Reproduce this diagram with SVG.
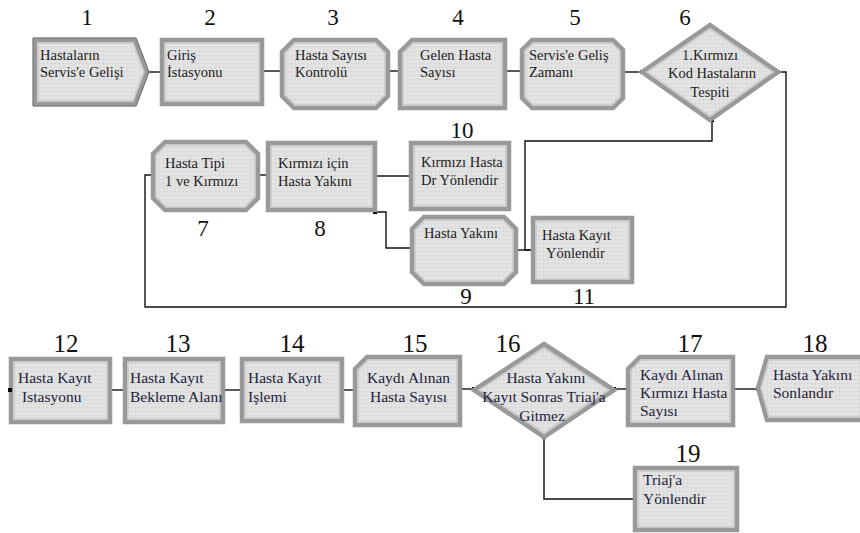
<svg xmlns="http://www.w3.org/2000/svg" width="860" height="533" viewBox="0 0 860 533">
<defs>
<pattern id="dots" width="4" height="4" patternUnits="userSpaceOnUse">
<rect width="4" height="4" fill="#e0e0e0"/>
<rect x="1" y="1" width="1" height="1" fill="#f0f0f0"/>
<rect x="3" y="3" width="1" height="1" fill="#d2d2d2"/>
</pattern>
<marker id="ep" viewBox="0 0 4 4" refX="2" refY="2" markerWidth="4" markerHeight="4" markerUnits="userSpaceOnUse">
<rect width="4" height="4" fill="#000"/>
</marker>
</defs>
<style>
.o{fill:url(#dots);stroke:#999;stroke-width:4.5;stroke-linejoin:miter}
.i{fill:none;stroke:#c8c8c8;stroke-width:1.5}
.x{fill:none;stroke:#707070;stroke-width:1}
text{font-family:'Liberation Serif','DejaVu Serif','Times New Roman',serif}
.t{font-size:14.5px;fill:#1c1c1c}
.tb{font-size:15.5px;fill:#1e1e3c}
.m{text-anchor:middle}
.n{font-size:23px;fill:#111;text-anchor:middle}
.nb{font-size:25px;fill:#111;text-anchor:middle}
.c{fill:none;stroke:#111;stroke-width:1.4;marker-start:url(#ep);marker-end:url(#ep)}
</style>
<rect width="860" height="533" fill="#fff"/>

<g id="connectors">
<path class="c" d="M147,72 H162"/>
<path class="c" d="M262,71 H282"/>
<path class="c" d="M388,71 H400"/>
<path class="c" d="M505,71 H522"/>
<path class="c" d="M623,72 H642"/>
<path class="c" d="M778,72 H786 V307 H145 V175 H153"/>
<path class="c" d="M258,175 H268"/>
<path class="c" d="M375,176 H411"/>
<path class="c" d="M375,212 H386 V248 H412"/>
<path class="c" d="M516,250 H533"/>
<path class="c" d="M712,120 V141 H525 V250 H533"/>
<path class="c" d="M110,390 H125"/>
<path class="c" d="M223,390 H242"/>
<path class="c" d="M342,390 H355"/>
<path class="c" d="M460,389 H474"/>
<path class="c" d="M614,389 H628"/>
<path class="c" d="M733,389 H758"/>
<path class="c" d="M544,437 V499 H635"/>
</g>

<g id="n1">
<polygon class="o" points="35,40 135,40 147,72 135,104 35,104"/>
<polygon class="x" points="33,38 136,38 149,72 136,106 33,106"/>
<polygon class="i" points="38,43 133,43 144,72 133,101 38,101"/>
<text class="n" x="87" y="25" font-family="Liberation Serif, serif">1</text>
<text class="t" x="40" y="60" font-family="Liberation Serif, serif">Hastaların</text>
<text class="t" x="40" y="77" font-family="Liberation Serif, serif">Servis'e Gelişi</text>
</g>
<g id="n2">
<rect class="o" x="162" y="40" width="100" height="64"/>
<rect class="i" x="165" y="43" width="94" height="58"/>
<text class="n" x="210" y="25">2</text>
<text class="t" x="167" y="60">Giriş</text>
<text class="t" x="167" y="77">İstasyonu</text>
</g>
<g id="n3">
<polygon class="o" points="294,40 376,40 388,52 388,96 376,108 294,108 282,96 282,52"/>
<polygon class="i" points="295,43 375,43 385,53 385,95 375,105 295,105 285,95 285,53"/>
<text class="n" x="333" y="25">3</text>
<text class="t" x="295" y="60">Hasta Sayısı</text>
<text class="t" x="295" y="77">Kontrolü</text>
</g>
<g id="n4">
<polygon class="o" points="412,40 505,40 505,108 400,108 400,52"/>
<polygon class="i" points="413,43 502,43 502,105 403,105 403,53"/>
<text class="n" x="458" y="25">4</text>
<text class="t" x="420" y="60">Gelen Hasta</text>
<text class="t" x="420" y="77">Sayısı</text>
</g>
<g id="n5">
<polygon class="o" points="532,40 613,40 623,50 623,98 613,108 532,108 522,98 522,50"/>
<polygon class="i" points="533,43 612,43 620,51 620,97 612,105 533,105 525,97 525,51"/>
<text class="n" x="575" y="25">5</text>
<text class="t" x="529" y="60">Servis'e Geliş</text>
<text class="t" x="529" y="77">Zamanı</text>
</g>
<g id="n6">
<polygon class="o" points="710,25 778,72 710,120 642,72"/>
<polygon class="i" points="710,29 773,72 710,116 647,72"/>
<text class="n" x="685" y="25">6</text>
<text class="t m" x="710" y="60">1.Kırmızı</text>
<text class="t m" x="712" y="78">Kod  Hastaların</text>
<text class="t m" x="710" y="97">Tespiti</text>
</g>
<g id="n7">
<polygon class="o" points="165,142 246,142 258,154 258,198 246,210 165,210 153,198 153,154"/>
<polygon class="i" points="166,145 245,145 255,155 255,197 245,207 166,207 156,197 156,155"/>
<text class="n" x="203" y="236">7</text>
<text class="t" x="165" y="168">Hasta Tipi</text>
<text class="t" x="165" y="186">1 ve Kırmızı</text>
</g>
<g id="n8">
<rect class="o" x="268" y="143" width="107" height="67"/>
<rect class="i" x="271" y="146" width="101" height="61"/>
<text class="n" x="320" y="236">8</text>
<text class="t" x="278" y="168">Kırmızı için</text>
<text class="t" x="278" y="186">Hasta Yakını</text>
</g>
<g id="n9">
<polygon class="o" points="424,217 504,217 516,229 516,272 504,284 424,284 412,272 412,229"/>
<polygon class="i" points="425,220 503,220 513,230 513,271 503,281 425,281 415,271 415,230"/>
<text class="n" x="466" y="304">9</text>
<text class="t" x="424" y="238">Hasta Yakını</text>
</g>
<g id="n10">
<rect class="o" x="411" y="143" width="98" height="66"/>
<rect class="i" x="414" y="146" width="92" height="60"/>
<text class="n" x="462" y="138">10</text>
<text class="t" x="421" y="167">Kırmızı Hasta</text>
<text class="t" x="421" y="185">Dr Yönlendir</text>
</g>
<g id="n11">
<rect class="o" x="533" y="218" width="99" height="64"/>
<rect class="i" x="536" y="221" width="93" height="58"/>
<text class="n" x="584" y="304">11</text>
<text class="t" x="542" y="240">Hasta Kayıt</text>
<text class="t" x="546" y="258">Yönlendir</text>
</g>

<g id="n12">
<rect class="o" x="11" y="359" width="99" height="63"/>
<rect class="i" x="14" y="362" width="93" height="57"/>
<rect x="8" y="388" width="4" height="4" fill="#000"/>
<text class="nb" x="66" y="352">12</text>
<text class="tb" x="18" y="383">Hasta Kayıt</text>
<text class="tb" x="22" y="402">Istasyonu</text>
</g>
<g id="n13">
<rect class="o" x="125" y="359" width="98" height="63"/>
<rect class="i" x="128" y="362" width="92" height="57"/>
<text class="nb" x="178" y="352">13</text>
<text class="tb" x="130" y="383">Hasta Kayıt</text>
<text class="tb" x="130" y="402">Bekleme Alanı</text>
</g>
<g id="n14">
<rect class="o" x="242" y="359" width="100" height="62"/>
<rect class="i" x="245" y="362" width="94" height="56"/>
<text class="nb" x="292" y="352">14</text>
<text class="tb" x="248" y="383">Hasta Kayıt</text>
<text class="tb" x="248" y="402">Işlemi</text>
</g>
<g id="n15">
<polygon class="o" points="367,357 460,357 460,425 355,425 355,369"/>
<polygon class="i" points="368,360 457,360 457,422 358,422 358,370"/>
<text class="nb" x="415" y="352">15</text>
<text class="tb" x="367" y="383">Kaydı Alınan</text>
<text class="tb" x="370" y="402">Hasta Sayısı</text>
</g>
<g id="n16">
<polygon class="o" points="544,344 614,390 544,437 474,390"/>
<polygon class="i" points="544,348 609,390 544,433 479,390"/>
<text class="nb" x="508" y="352">16</text>
<text class="tb m" x="546" y="383">Hasta Yakını</text>
<text class="tb m" x="544" y="402">Kayıt Sonras Triaj'a</text>
<text class="tb m" x="542" y="421">Gitmez</text>
</g>
<g id="n17">
<polygon class="o" points="640,357 733,357 733,425 628,425 628,369"/>
<polygon class="i" points="641,360 730,360 730,422 631,422 631,370"/>
<text class="nb" x="690" y="352">17</text>
<text class="tb" x="640" y="380">Kaydı Alınan</text>
<text class="tb" x="640" y="398">Kırmızı Hasta</text>
<text class="tb" x="640" y="416">Sayısı</text>
</g>
<g id="n18">
<polygon class="o" points="767,357 866,357 866,420 767,420 758,388"/>
<polygon class="i" points="769,360 866,360 866,417 769,417 761,388"/>
<text class="nb" x="815" y="352">18</text>
<text class="tb" x="773" y="380">Hasta Yakını</text>
<text class="tb" x="773" y="398">Sonlandır</text>
</g>
<g id="n19">
<rect class="o" x="635" y="468" width="102" height="62"/>
<rect class="i" x="638" y="471" width="96" height="56"/>
<text class="nb" x="688" y="462">19</text>
<text class="tb" x="643" y="485">Triaj'a</text>
<text class="tb" x="643" y="504">Yönlendir</text>
</g>
</svg>
